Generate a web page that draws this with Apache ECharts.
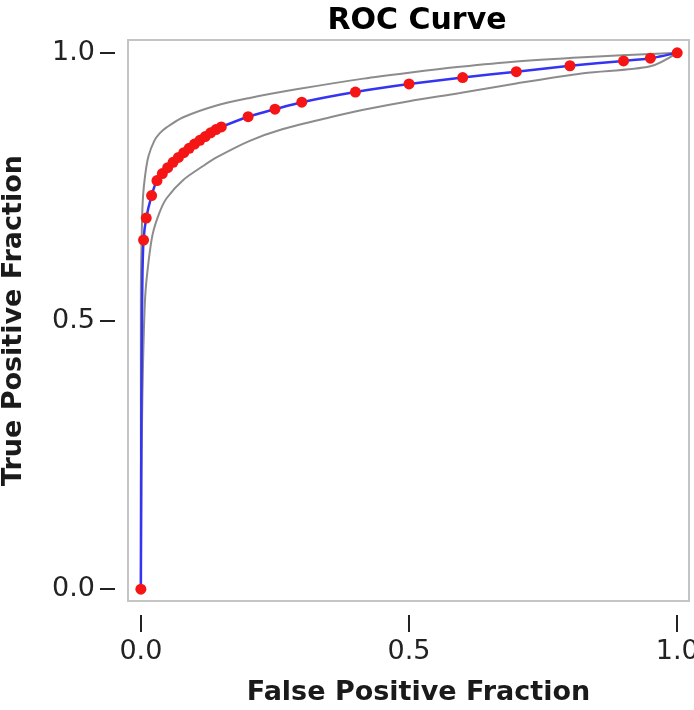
<!DOCTYPE html>
<html><head><meta charset="utf-8">
<script src="https://cdn.jsdelivr.net/npm/echarts@6/dist/echarts.min.js"></script>
<style>html,body{margin:0;padding:0;background:#fff}#c{width:694px;height:710px}</style>
</head><body><div id="c"></div>
<script>
// Operating points (red dots)
const pointFpr = [0, 0.005, 0.01, 0.02, 0.03, 0.04, 0.05, 0.06, 0.07, 0.08, 0.09, 0.10, 0.11, 0.12, 0.13, 0.14, 0.15, 0.2, 0.25, 0.3, 0.4, 0.5, 0.6, 0.7, 0.8, 0.9, 0.95, 1.0];
const pointTpr = [0, 0.651, 0.692, 0.734, 0.762, 0.775, 0.786, 0.796, 0.805, 0.814, 0.822, 0.830, 0.837, 0.844, 0.851, 0.857, 0.862, 0.881, 0.895, 0.908, 0.927, 0.942, 0.954, 0.965, 0.976, 0.985, 0.990, 1.0];
// Fitted ROC curve (blue)
const curveFpr = [0, 0.001, 0.002, 0.003, 0.005, 0.01, 0.02, 0.03, 0.04, 0.05, 0.06, 0.07, 0.08, 0.09, 0.10, 0.11, 0.12, 0.13, 0.14, 0.15, 0.2, 0.25, 0.3, 0.4, 0.5, 0.6, 0.7, 0.8, 0.9, 0.95, 1.0];
const curveTpr = [0, 0.35, 0.50, 0.59, 0.651, 0.692, 0.734, 0.762, 0.775, 0.786, 0.796, 0.805, 0.814, 0.822, 0.830, 0.837, 0.844, 0.851, 0.857, 0.862, 0.881, 0.895, 0.908, 0.927, 0.942, 0.954, 0.965, 0.976, 0.985, 0.990, 1.0];
// Confidence band (gray)
const upperFpr = [0, 0, 0.002, 0.004, 0.008, 0.014, 0.025, 0.035, 0.048, 0.079, 0.141, 0.203, 0.29, 0.415, 0.5, 0.595, 0.70, 0.825, 0.95, 1.0];
const upperTpr = [0, 0.55, 0.68, 0.732, 0.772, 0.807, 0.836, 0.850, 0.861, 0.880, 0.902, 0.916, 0.932, 0.952, 0.963, 0.974, 0.984, 0.992, 0.998, 1.0];
const lowerFpr = [0, 0.001, 0.002, 0.004, 0.008, 0.014, 0.022, 0.035, 0.048, 0.079, 0.116, 0.141, 0.203, 0.265, 0.353, 0.415, 0.5, 0.595, 0.70, 0.825, 0.95, 1.0];
const lowerTpr = [0, 0.2, 0.30, 0.42, 0.545, 0.608, 0.662, 0.703, 0.729, 0.763, 0.789, 0.805, 0.836, 0.858, 0.880, 0.894, 0.910, 0.925, 0.943, 0.962, 0.975, 1.0];
const tickValues = [0, 0.5, 1.0];

const zip = (a, b) => a.map((v, i) => [v, b[i]]);
const font = 'DejaVu Sans';

const chart = echarts.init(document.getElementById('c'));
chart.setOption({
  animation: false,
  backgroundColor: '#fff',
  title: {
    text: 'ROC Curve', left: 412, top: 1, textAlign: 'center',
    textStyle: { fontFamily: font, fontSize: 30, fontWeight: 'bold', color: '#000' }
  },
  grid: { left: 128, right: 5, top: 40, bottom: 109, outerBoundsMode: 'none', containLabel: false, show: true, borderColor: '#c4c4c4', borderWidth: 2, backgroundColor: '#fff' },
  xAxis: {
    type: 'value', min: -0.024, max: 1.022, position: 'bottom', offset: 14,
    name: 'False Positive Fraction', nameLocation: 'middle', nameGap: 64,
    nameTextStyle: { fontFamily: font, fontSize: 27, fontWeight: 'bold', color: '#1a1a1a', padding: [0, 0, 0, 20] },
    axisLine: { show: false, onZero: false },
    axisTick: { show: true, inside: false, length: 17, lineStyle: { color: '#222', width: 2 }, customValues: tickValues },
    axisLabel: { margin: 23, fontFamily: font, fontSize: 27, color: '#222', customValues: tickValues, formatter: v => v.toFixed(1) },
    splitLine: { show: false }
  },
  yAxis: {
    type: 'value', min: -0.022, max: 1.024, position: 'left', offset: 13,
    name: 'True Positive Fraction', nameLocation: 'middle', nameGap: 88,
    nameTextStyle: { fontFamily: font, fontSize: 27, fontWeight: 'bold', color: '#1a1a1a' },
    axisLine: { show: false, onZero: false },
    axisTick: { show: true, inside: false, length: 15, lineStyle: { color: '#222', width: 2 }, customValues: tickValues },
    axisLabel: { margin: 20, fontFamily: font, fontSize: 27, color: '#222', customValues: tickValues, formatter: v => v.toFixed(1) },
    splitLine: { show: false }
  },
  series: [
    { type: 'line', data: zip(upperFpr, upperTpr), smooth: 0.3, showSymbol: false, lineStyle: { color: '#8c8c8c', width: 2 }, z: 2 },
    { type: 'line', data: zip(lowerFpr, lowerTpr), smooth: 0.3, showSymbol: false, lineStyle: { color: '#8c8c8c', width: 2 }, z: 2 },
    { type: 'line', data: zip(curveFpr, curveTpr), smooth: 0.2, showSymbol: false, lineStyle: { color: '#3434f2', width: 2.5 }, z: 3 },
    { type: 'scatter', data: zip(pointFpr, pointTpr), symbolSize: 11, itemStyle: { color: '#f51515', opacity: 1 }, z: 4 }
  ]
});
</script>
</body></html>
